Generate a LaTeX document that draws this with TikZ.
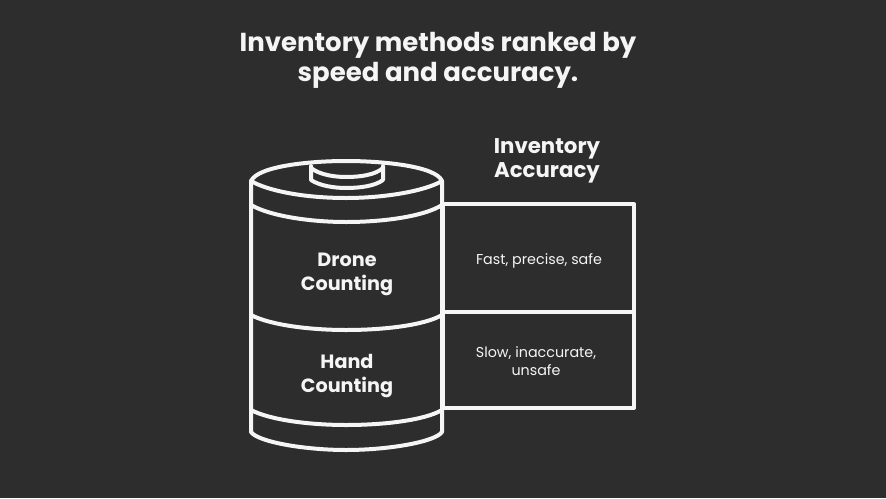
\documentclass[tikz,border=0pt]{standalone}
\usepackage{fontspec}
\setmainfont{Poppins}
\definecolor{board}{HTML}{2D2D2D}
\definecolor{chalk}{HTML}{F5F5F5}
\tikzset{
  chalkline/.style={draw=chalk,line width=4pt,line cap=round,line join=round},
  cell/.style={chalkline,rectangle,outer sep=0pt,minimum width=191pt,anchor=north west},
  heading/.style={text=chalk,align=center,font=\bfseries\fontsize{26}{30}\selectfont},
  label/.style={text=chalk,align=center,font=\bfseries\fontsize{19.2}{24}\selectfont},
  note/.style={text=chalk,align=center,font=\fontsize{14.3}{18}\selectfont}
}
\begin{document}
\begin{tikzpicture}[x=1pt,y=-1pt]
\useasboundingbox[fill=board] (0,0) rectangle (886,498);
\node [heading] (title) at (438,60) {Inventory methods ranked by\\speed and accuracy.};
\node [label,font=\bfseries\fontsize{21.3}{24}\selectfont] (accuracy) at (547,160.5) {Inventory\\Accuracy};
% barrel
\coordinate (tl) at (251,181);
\coordinate (tr) at (442,181);
\coordinate (bl) at (251,432);
\coordinate (br) at (442,432);
\draw [chalkline] (tl) .. controls (258,166) and (310,161) .. (346,161)
  .. controls (382,161) and (436,166) .. (tr)
  .. controls (425,191) and (385,198) .. (346,198)
  .. controls (305,198) and (268,191) .. (tl) -- cycle;
\draw [chalkline] (tl) -- (bl) .. controls (258,442) and (305,450) .. (346,450)
  .. controls (388,450) and (435,442) .. (br) -- (tr);
\draw [chalkline] (251,205) .. controls (270,216) and (310,222) .. (346,222)
  .. controls (385,222) and (425,216) .. (442,205);
\draw [chalkline] (251,315) .. controls (270,325) and (310,330) .. (346,330)
  .. controls (385,330) and (425,325) .. (442,315);
\draw [chalkline] (251,410) .. controls (270,420) and (310,425) .. (346,425)
  .. controls (385,425) and (425,420) .. (442,410);
% cap
\draw [chalkline] (311,168) .. controls (320,175) and (335,177) .. (346,177)
  .. controls (360,177) and (375,175) .. (383,168);
\draw [chalkline] (311,166) -- (311,180) .. controls (320,186) and (335,188) .. (346,188)
  .. controls (360,188) and (375,186) .. (383,180) -- (383,166);
\node [label] (drone) at (347,274) {Drone\\Counting};
\node [label] (hand) at (347,376) {Hand\\Counting};
% table
\node [cell,minimum height=107.5pt] (fast) at (443,204) {};
\node [cell,minimum height=96.5pt] (slow) at (fast.south west) {};
\node [note] (fasttext) at (539,261) {Fast, precise, safe};
\node [note] (slowtext) at (536,361.5) {Slow, inaccurate,\\unsafe};
\end{tikzpicture}
\end{document}
